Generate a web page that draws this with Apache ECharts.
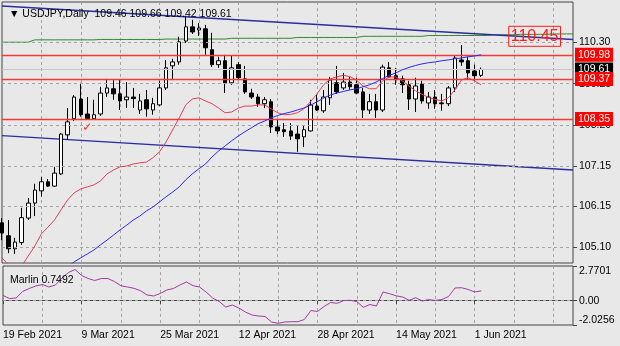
<!DOCTYPE html>
<html><head><meta charset="utf-8">
<script src="https://cdn.jsdelivr.net/npm/echarts@6/dist/echarts.min.js"></script>
<style>html,body{margin:0;padding:0;background:#e8e8e8}#c{width:620px;height:346px}</style>
</head><body><div id="c"></div>
<script>
// ---- data ----
const symbolName = 'USDJPY,Daily';
const lastOHLC = ['109.46', '109.66', '109.42', '109.61'];
const indicatorName = 'Marlin';
const lastMarlin = '0.7492';
const tickIndex = [0, 12, 24, 36, 48, 60, 72];
const tickLabels = ['19 Feb 2021', '9 Mar 2021', '25 Mar 2021', '12 Apr 2021', '28 Apr 2021', '14 May 2021', '1 Jun 2021'];
const priceTicks = [110.30, 109.25, 108.20, 107.15, 106.15, 105.10];
const marlinTicks = [2.7701, 0, -2.0256];
const levelLines = [109.98, 109.37, 108.35];
const bidPrice = 109.61;
const targetLevel = 110.45;

const opens = [105.72,105.39,105.06,105.22,105.84,106.22,106.53,106.76,106.65,106.96,
107.95,108.36,108.86,108.48,108.36,108.48,109.01,109.12,108.99,108.84,
108.91,108.58,108.84,108.58,108.71,109.14,109.70,109.80,110.33,110.69,
110.61,110.64,110.11,109.73,109.83,109.27,109.73,109.37,109.01,108.91,
108.74,108.79,108.15,108.08,108.05,107.97,107.90,108.05,108.68,108.56,
108.89,109.27,109.14,109.29,109.22,109.04,108.58,108.79,108.58,109.65,
109.45,109.37,109.22,108.86,109.24,108.76,108.91,108.76,108.74,109.14,
109.85,109.83,109.57,109.46];
const highs = [105.84,105.79,105.34,106.10,106.35,106.71,106.88,106.83,107.14,108.00,
108.63,108.96,109.27,108.91,108.84,109.17,109.37,109.34,109.34,109.29,
109.14,108.99,109.09,108.89,109.32,109.85,109.88,110.44,110.97,110.87,
110.79,110.74,110.54,109.93,109.98,109.95,109.80,109.70,109.12,108.99,
108.91,108.86,108.33,108.25,108.25,108.18,108.20,108.84,108.96,109.09,
109.42,109.70,109.52,109.42,109.40,109.14,108.99,108.99,109.73,109.80,
109.65,109.45,109.32,109.40,109.32,109.04,109.09,108.99,109.19,109.95,
110.23,109.93,109.73,109.66];
const lows = [105.28,104.95,104.93,105.16,105.79,105.89,106.38,106.63,106.63,106.93,
107.82,108.30,108.41,108.33,108.35,108.43,108.91,108.84,108.58,108.63,
108.63,108.48,108.41,108.46,108.68,109.09,109.34,109.73,110.28,110.51,
110.46,109.98,109.67,109.65,109.01,109.22,109.34,108.99,108.86,108.66,
108.63,108.00,107.97,107.90,107.82,107.52,107.64,108.03,108.56,108.51,
108.71,108.99,109.09,109.09,108.99,108.38,108.48,108.38,108.53,109.40,
109.22,109.01,108.58,108.53,108.74,108.61,108.61,108.56,108.68,109.04,
109.70,109.37,109.32,109.42];
const closes = [105.46,105.06,105.23,105.85,106.22,106.55,106.76,106.65,106.98,107.97,
108.28,108.91,108.46,108.36,108.46,109.01,109.14,108.99,108.81,108.91,
108.87,108.81,108.61,108.74,109.14,109.65,109.80,110.31,110.69,110.56,
110.66,110.16,109.73,109.83,109.27,109.65,109.40,109.04,108.91,108.74,
108.84,108.15,108.05,108.03,107.92,107.85,108.08,108.71,108.58,108.91,
109.34,109.04,109.29,109.17,109.01,108.58,108.79,108.58,109.67,109.42,
109.37,109.22,108.86,109.19,108.81,108.91,108.74,108.74,109.14,109.90,
109.80,109.52,109.45,109.61];

const redMA = [104.83,104.65,104.60,104.62,104.88,105.13,105.44,105.61,105.79,106.05,
106.30,106.48,106.58,106.63,106.68,106.78,106.96,107.06,107.14,107.16,
107.21,107.24,107.26,107.37,107.52,107.77,108.08,108.38,108.71,108.86,
108.89,108.81,108.74,108.63,108.51,108.53,108.63,108.68,108.68,108.71,
108.71,108.61,108.51,108.46,108.47,108.51,108.61,108.79,108.99,109.22,
109.37,109.42,109.46,109.43,109.34,109.19,109.12,109.12,109.32,109.42,
109.42,109.32,109.19,109.07,108.98,108.90,108.85,108.81,108.89,109.09,
109.34,109.40,109.32,109.22];
const blueMA = [null,null,null,null,null,null,null,null,null,null,
104.60,104.73,104.83,104.93,105.03,105.16,105.28,105.41,105.54,105.66,
105.79,105.89,106.02,106.12,106.25,106.38,106.50,106.63,106.81,106.96,
107.09,107.21,107.39,107.54,107.67,107.80,107.92,108.03,108.13,108.23,
108.30,108.38,108.44,108.49,108.53,108.58,108.63,108.70,108.79,108.88,
108.96,109.01,109.05,109.09,109.12,109.17,109.22,109.29,109.38,109.46,
109.52,109.60,109.66,109.71,109.75,109.78,109.80,109.83,109.85,109.88,
109.90,109.93,109.95,109.98];
const greenMA = [110.30,110.30,110.30,110.30,110.30,
110.36,110.36,110.36,110.36,110.36,110.36,110.36,110.36,110.36,110.36,
110.37,110.37,110.37,110.37,110.37,110.37,110.37,110.37,110.37,110.37,
110.38,110.38,110.38,110.38,110.38,110.38,110.38,110.38,110.38,110.38,
110.40,110.40,110.40,110.40,110.40,110.40,110.40,110.40,110.40,110.40,
110.42,110.42,110.42,110.42,110.42,110.42,110.42,110.42,110.42,110.42,
110.45,110.45,110.45,110.45,110.45,110.45,110.45,110.45,110.45,110.45,
110.47,110.47,110.47,110.47,110.47,110.47,110.47,110.47,110.47,110.47,
110.49,110.49,110.49,110.49,110.50,110.50,110.50,110.50,110.50,110.51,110.51,110.51,110.51];
const upperTrend = [[0, 111.22], [87, 110.37]];
const lowerTrend = [[0, 107.93], [87, 107.06]];
const marlin = [0.372,0.128,0.169,0.697,0.941,1.144,1.266,1.063,1.226,1.795,
2.242,2.486,1.998,1.754,1.591,1.754,1.754,1.510,1.169,1.063,
0.957,0.762,0.413,0.332,0.535,0.819,0.941,1.226,1.470,1.169,
1.063,0.657,0.169,-0.116,-0.563,-0.400,-0.644,-0.969,-1.213,-1.294,
-1.335,-1.782,-1.887,-1.782,-1.757,-1.757,-1.579,-0.847,-0.928,-0.522,
-0.197,-0.262,-0.034,-0.018,-0.116,-0.587,-0.359,-0.481,0.657,0.518,
0.348,0.250,-0.018,0.193,-0.075,0.039,-0.034,0.047,0.291,0.982,
1.006,0.860,0.657,0.7492];
const targetIndex = 81;
const checkPoint = [13, 108.13];

// ---- chart ----
const N = greenMA.length;
const cats = Array.from({length: N}, (_, i) => String(i));
const candles = opens.map((o, i) => [o, closes[i], lows[i], highs[i]]);
const FONT = '"Liberation Sans", Arial, sans-serif';
const gridColor = '#a4a4a4';
const isGridIdx = (i) => i > 0 && i % 6 === 0;
const isLabelIdx = (i) => tickIndex.indexOf(i) >= 0;
const txt = {fontSize: 10.5, color: '#000', fontFamily: FONT};

const option = {
  backgroundColor: '#e8e8e8',
  animation: false,
  title: [
    {text: '▼ ' + symbolName + '  ' + lastOHLC.join(' '), left: 4, top: 4,
     textStyle: Object.assign({fontWeight: 'normal'}, txt)},
    {text: indicatorName + ' ' + lastMarlin, left: 5, top: 270,
     textStyle: Object.assign({fontWeight: 'normal'}, txt)}
  ],
  grid: [
    {left: 2, right: 47, top: 2, height: 261, show: true, borderColor: '#444', borderWidth: 1},
    {left: 2, right: 47, top: 266, height: 59, show: true, borderColor: '#444', borderWidth: 1}
  ],
  xAxis: [
    {type: 'category', gridIndex: 0, data: cats, boundaryGap: false,
     axisLine: {show: false}, axisTick: {show: false}, axisLabel: {show: false},
     splitLine: {show: true, interval: (i) => isGridIdx(i), lineStyle: {color: gridColor, type: [3, 3]}}},
    {type: 'category', gridIndex: 1, data: cats, boundaryGap: false,
     axisLine: {show: true, lineStyle: {color: '#444'}},
     axisTick: {show: true, interval: (i) => isLabelIdx(i), length: 4, lineStyle: {color: '#444'}},
     axisLabel: Object.assign({show: true, interval: (i) => isLabelIdx(i), align: 'left', margin: 5,
       formatter: (v) => { const k = tickIndex.indexOf(Number(v)); return k >= 0 ? tickLabels[k] : ''; }}, txt),
     splitLine: {show: true, interval: (i) => isGridIdx(i), lineStyle: {color: gridColor, type: [3, 3]}}}
  ],
  yAxis: [
    {type: 'value', gridIndex: 0, position: 'right', min: 104.70, max: 111.32,
     splitLine: {show: false}, axisLine: {show: false},
     axisTick: {show: true, customValues: priceTicks, length: 4, lineStyle: {color: '#444'}},
     axisLabel: Object.assign({customValues: priceTicks, margin: 6, formatter: (v) => v.toFixed(2)}, txt)},
    {type: 'value', gridIndex: 1, position: 'right', min: -2.0256, max: 2.7701,
     splitLine: {show: false}, axisLine: {show: false},
     axisTick: {show: true, customValues: marlinTicks, length: 4, lineStyle: {color: '#444'}},
     axisLabel: {customValues: marlinTicks, margin: 6,
       formatter: (v) => v > 1 ? '{t|' + v.toFixed(4) + '}' : (v < -1 ? '{b|' + v.toFixed(4) + '}' : '{n|0.00}'),
       rich: {t: Object.assign({padding: [11, 0, 0, 0]}, txt), b: Object.assign({padding: [0, 0, 9, 0]}, txt),
              n: Object.assign({padding: [3, 0, 0, 0]}, txt)}}}
  ],
  series: [
    {type: 'line', xAxisIndex: 0, yAxisIndex: 0, data: [], z: 1,
     markLine: {silent: true, symbol: ['none', 'none'], label: {show: false},
       lineStyle: {color: gridColor, type: [3, 3], width: 1},
       data: priceTicks.map(v => ({yAxis: v}))}},
    {type: 'line', xAxisIndex: 1, yAxisIndex: 1, data: [], z: 1,
     markLine: {silent: true, symbol: ['none', 'none'], label: {show: false},
       lineStyle: {color: gridColor, type: [3, 3], width: 1},
       data: [{yAxis: 0}]}},
    {type: 'line', xAxisIndex: 0, yAxisIndex: 0, data: [], z: 2,
     markLine: {silent: true, symbol: ['none', 'none'],
       data: [{yAxis: bidPrice, lineStyle: {color: '#c8c8c8', width: 1, type: 'solid'},
               label: {show: true, position: 'end', distance: 2, formatter: bidPrice.toFixed(2),
                 backgroundColor: '#000', color: '#fff', padding: [2, 3, 1, 3], fontSize: 10.5, fontFamily: FONT}}]
         .concat(levelLines.map(v => ({yAxis: v, lineStyle: {color: '#f03a3a', width: 1.3, type: 'solid'},
               label: {show: true, position: 'end', distance: 2, formatter: v.toFixed(2),
                 backgroundColor: '#ff0000', color: '#fff', padding: [2, 3, 1, 3], fontSize: 10.5, fontFamily: FONT}})))}},
    {type: 'line', xAxisIndex: 0, yAxisIndex: 0, data: greenMA, symbol: 'none', z: 3,
     lineStyle: {color: '#2f8a2f', width: 1}},
    {type: 'line', xAxisIndex: 0, yAxisIndex: 0, data: upperTrend, symbol: 'none', z: 3,
     lineStyle: {color: '#2c2ca0', width: 1.4}},
    {type: 'line', xAxisIndex: 0, yAxisIndex: 0, data: lowerTrend, symbol: 'none', z: 3,
     lineStyle: {color: '#2c2ca0', width: 1.4}},
    {type: 'candlestick', xAxisIndex: 0, yAxisIndex: 0, data: candles, barWidth: 4, z: 4,
     itemStyle: {color: '#ffffff', color0: '#000000', borderColor: '#000000', borderColor0: '#000000', borderWidth: 1},
     markPoint: {silent: true, symbol: 'circle', symbolSize: 1, itemStyle: {color: 'rgba(0,0,0,0)'},
       data: [
         {coord: [String(targetIndex), targetLevel],
          label: {show: true, position: 'inside', offset: [1, 0], formatter: targetLevel.toFixed(2), color: '#ff1a1a', fontSize: 16,
            fontFamily: FONT, borderColor: '#ff1a1a', borderWidth: 1, padding: [2, 2, 1, 2], lineHeight: 17}},
         {coord: [String(checkPoint[0]), checkPoint[1]],
          label: {show: true, position: 'inside', formatter: '✓', color: '#e8302a', fontSize: 12, fontFamily: 'DejaVu Sans'}}
       ]}},
    {type: 'line', xAxisIndex: 0, yAxisIndex: 0, data: redMA, symbol: 'none', z: 5,
     lineStyle: {color: '#e0405a', width: 1}},
    {type: 'line', xAxisIndex: 0, yAxisIndex: 0, data: blueMA, symbol: 'none', z: 5,
     lineStyle: {color: '#2a2af0', width: 1}},
    {type: 'line', xAxisIndex: 1, yAxisIndex: 1, data: marlin, symbol: 'none', z: 5,
     lineStyle: {color: '#a23aa2', width: 1}}
  ]
};
const chart = echarts.init(document.getElementById('c'));
chart.setOption(option);
</script>
</body></html>
